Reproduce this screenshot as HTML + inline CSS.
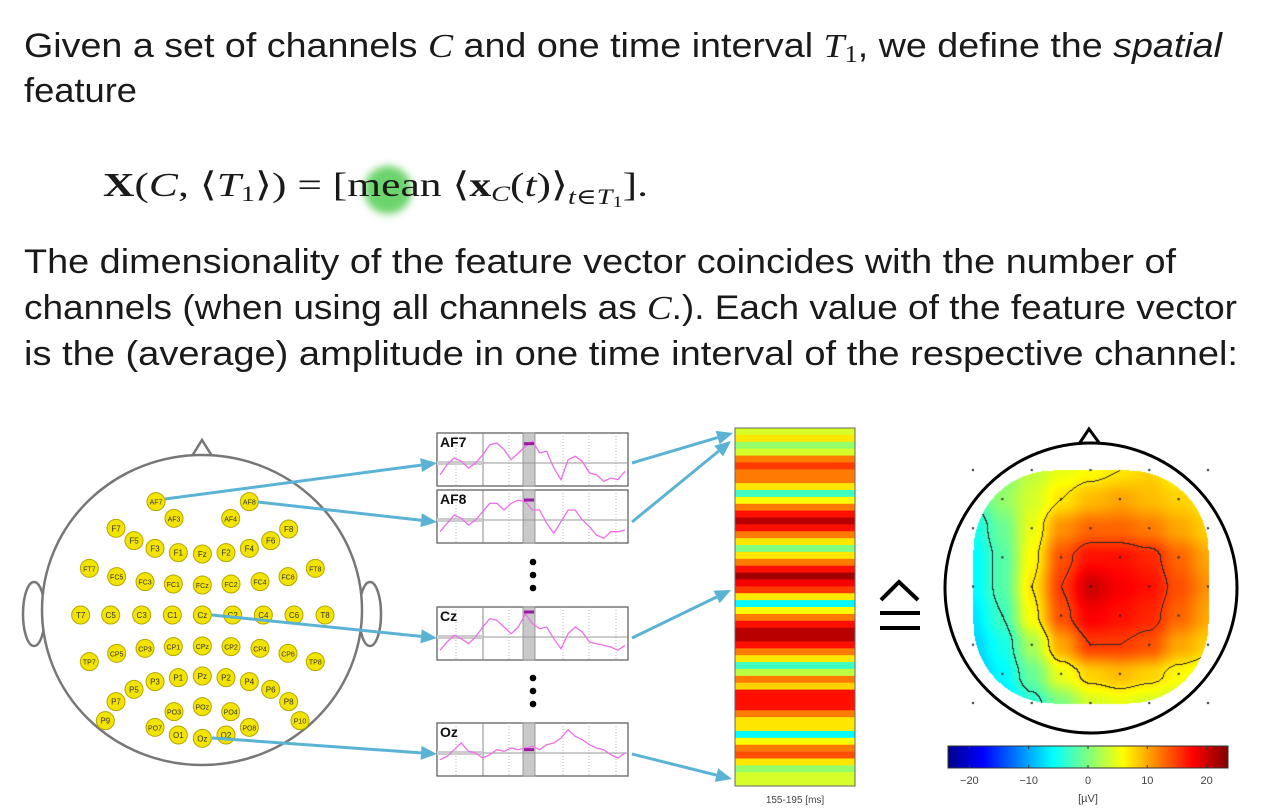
<!DOCTYPE html>
<html><head><meta charset="utf-8"><style>
html,body{margin:0;padding:0;background:#fff;}
#wrap{position:relative;width:1277px;height:812px;overflow:hidden;}
svg{position:absolute;left:0;top:0;}
#topo{position:absolute;left:960px;top:460px;}
</style></head><body>
<div id="wrap">
<svg id="main" width="1277" height="812">
<defs>
<filter id="blur" x="-50%" y="-50%" width="200%" height="200%"><feGaussianBlur stdDeviation="4"/></filter>
<linearGradient id="jet" x1="0" x2="1" y1="0" y2="0">
<stop offset="0" stop-color="#00008f"/><stop offset="0.125" stop-color="#0000ff"/><stop offset="0.375" stop-color="#00ffff"/><stop offset="0.625" stop-color="#ffff00"/><stop offset="0.875" stop-color="#ff0000"/><stop offset="1" stop-color="#800000"/>
</linearGradient>
</defs>
<g font-family="Liberation Sans, sans-serif" font-size="34" fill="#1a1a1a">
<text x="24" y="57" textLength="1198" lengthAdjust="spacingAndGlyphs">Given a set of channels <tspan font-family="Liberation Serif, serif" font-style="italic">C</tspan> and one time interval <tspan font-family="Liberation Serif, serif" font-style="italic">T</tspan><tspan font-family="Liberation Serif, serif" font-size="24" dy="5">1</tspan><tspan dy="-5">, we define the </tspan><tspan font-style="italic">spatial</tspan></text>
<text x="24" y="102" textLength="113" lengthAdjust="spacingAndGlyphs">feature</text>
<circle cx="388" cy="190" r="24" fill="#6cd46c" filter="url(#blur)"/>
<text x="103" y="196" textLength="545" lengthAdjust="spacingAndGlyphs" font-family="Liberation Serif, DejaVu Serif, serif"><tspan font-weight="bold">X</tspan>(<tspan font-style="italic">C</tspan>, ⟨<tspan font-style="italic">T</tspan><tspan font-size="22" dy="5">1</tspan><tspan dy="-5">⟩) = [mean ⟨</tspan><tspan font-weight="bold">x</tspan><tspan font-size="22" dy="5" font-style="italic">C</tspan><tspan dy="-5">(</tspan><tspan font-style="italic">t</tspan>)⟩<tspan font-size="22" dy="8" font-style="italic">t∈T</tspan><tspan font-size="16" dy="3">1</tspan><tspan dy="-11">].</tspan></text>
<text x="24" y="273" textLength="1152" lengthAdjust="spacingAndGlyphs">The dimensionality of the feature vector coincides with the number of</text>
<text x="24" y="319" textLength="1213" lengthAdjust="spacingAndGlyphs">channels (when using all channels as <tspan font-family="Liberation Serif, serif" font-style="italic">C</tspan>.). Each value of the feature vector</text>
<text x="24" y="365" textLength="1214" lengthAdjust="spacingAndGlyphs">is the (average) amplitude in one time interval of the respective channel:</text>
</g>
<g fill="none" stroke="#777" stroke-width="2.5">
<path d="M192,456 L202,440 L212,456"/>
<ellipse cx="34" cy="614" rx="11" ry="32" fill="#fff"/>
<ellipse cx="370" cy="614" rx="11" ry="32" fill="#fff"/>
<ellipse cx="202" cy="610" rx="160" ry="155" fill="#fff"/>
</g>
<g id="electrodes"></g>
<g id="panels"></g>
<g id="strip"></g>
<g id="arrows"></g>
<g stroke="#000" fill="none" stroke-width="4">
<path d="M881,600 L899,582 L918,600"/>
<line x1="880" y1="613" x2="920" y2="613"/>
<line x1="880" y1="628" x2="920" y2="628"/>
</g>
<g fill="none" stroke="#000" stroke-width="3">
<path d="M1079,444 L1089,429 L1100,444"/>
<ellipse cx="1091" cy="588" rx="146" ry="145"/>
</g>
<g id="colorbar"></g>
</svg>
<canvas id="topo" width="260" height="260"></canvas>
</div>
<script>
const stripValues = [4,7,1,4,12,15,12,12,7,-3,6,12,17,21,17,12,7,0,7,12,17,22,18,15,7,-6,6,12,17,21,21,17,12,7,-3,3,12,8,17,17,17,12,7,7,-6,6,12,14,7,1,4,4];
const channelNames = ['AF7','AF8','Cz','Oz'];
const sigAF7 = [-35,-5,15,5,-15,0,25,55,60,40,10,30,50,65,30,35,-15,-50,10,20,5,-30,-35,-55,-45,-50,-25];
const sigAF8 = [-35,-10,15,5,-15,0,25,50,50,30,50,60,55,30,30,-10,-40,-5,30,30,0,-20,-45,-55,-35,-35,-30];
const sigCz  = [-40,-15,5,-5,-20,0,30,55,50,30,10,30,70,40,25,30,-5,-35,10,30,15,-15,-20,-25,-30,-40,-25];
const sigOz  = [-20,-10,10,30,5,0,-15,-5,10,5,15,10,15,20,10,25,30,45,70,50,40,25,15,10,-5,-15,0];
const intervalMeans = [58,60,75,10];
const topoGrid = [
 [-2,0,3,5,6,7,8,6,5],
 [-3,1,4,7,9,10,9,8,7],
 [-5,-1,5,11,13,13,12,10,8],
 [-6,-2,6,14,17,17,16,13,10],
 [-6,-2,7,15,20,18,17,14,11],
 [-7,-3,6,14,18,17,16,13,10],
 [-8,-5,2,10,15,15,14,10,8],
 [-9,-6,-1,5,8,9,8,6,5],
 [-9,-8,-4,0,4,5,4,3,3]];
const contourLevels = [-3,7,15];
const cbTicks = [-20,-10,0,10,20];
const cbMin = -23.6, cbMax = 23.6;

const NS='http://www.w3.org/2000/svg';
function mk(tag, attrs, parent){const e=document.createElementNS(NS,tag);for(const k in attrs)e.setAttribute(k,attrs[k]);parent.appendChild(e);return e;}
function jet(v){let t=(v-cbMin)/(cbMax-cbMin);t=Math.max(0,Math.min(1,t));
 const c=x=>Math.round(255*Math.max(0,Math.min(1,x)));
 return [c(1.5-Math.abs(4*t-3)),c(1.5-Math.abs(4*t-2)),c(1.5-Math.abs(4*t-1))];}
function jetS(v){const c=jet(v);return 'rgb('+c.join(',')+')';}

const elec=[['AF7',408,215],['AF8',688,215],['AF3',462,265],['AF4',632,265],
['F7',288,295],['F5',342,332],['F3',405,355],['F1',475,368],['Fz',547,372],['F2',618,368],['F4',688,355],['F6',752,332],['F8',806,297],
['FT7',208,415],['FC5',290,440],['FC3',375,455],['FC1',460,462],['FCz',547,465],['FC2',633,462],['FC4',720,455],['FC6',804,440],['FT8',886,415],
['T7',182,555],['C5',272,555],['C3',365,555],['C1',457,555],['Cz',547,555],['C2',638,555],['C4',730,555],['C6',822,555],['T8',915,555],
['TP7',208,695],['CP5',290,670],['CP3',375,655],['CP1',460,650],['CPz',547,648],['CP2',633,650],['CP4',720,655],['CP6',804,670],['TP8',886,695],
['P9',256,872],['P7',288,815],['P5',342,778],['P3',405,755],['P1',475,743],['Pz',547,738],['P2',618,743],['P4',688,755],['P6',752,778],['P8',806,815],['P10',840,872],
['PO7',405,892],['PO3',462,845],['POz',547,830],['PO4',632,845],['PO8',688,892],
['O1',475,915],['Oz',547,925],['O2',618,915]];
const eg=document.getElementById('electrodes');
elec.forEach(([n,zx,zy])=>{
 const x=20+zx/3,y=430+zy/3;
 const g=mk('g',{},eg);
 
 
 mk('circle',{cx:x,cy:y,r:9,fill:'#f3e300',stroke:'#b5a600','stroke-width':1},g);
 const t=mk('text',{x:x,y:y+3,'text-anchor':'middle','font-size':n.length>2?7:8,'font-family':'Liberation Sans, sans-serif',fill:'#333'},g);
 t.textContent=n;
});

const pg=document.getElementById('panels');
const panelTops=[433,490,607,723];
const sigs=[sigAF7,sigAF8,sigCz,sigOz];
const px0=437,px1=628,ph=53;
const xOf=i=>px0+3+i*(px1-px0-6)/(sigAF7.length-1);
sigs.forEach((s,k)=>{
 const top=panelTops[k],base=top+30;
 const g=mk('g',{},pg);
 
 
 mk('rect',{x:px0,y:top,width:px1-px0,height:ph,fill:'#fff',stroke:'#555','stroke-width':1.2},g);
 [456,509,563,589,616].forEach(x=>mk('line',{x1:x,x2:x,y1:top,y2:top+ph,stroke:'#aaa','stroke-dasharray':'1,2','stroke-width':0.8},g));
 mk('rect',{x:523,y:top,width:12,height:ph,fill:'#c9c9c9',stroke:'#888','stroke-width':0.8},g);
 mk('line',{x1:483,x2:483,y1:top,y2:top+ph,stroke:'#888','stroke-width':1},g);
 mk('line',{x1:px0,x2:px1,y1:base,y2:base,stroke:'#999','stroke-width':1},g);
 mk('line',{x1:px0,x2:483,y1:base,y2:base,stroke:'#ccc','stroke-width':4},g);
 let d='';s.forEach((v,i)=>{d+=(i?'L':'M')+xOf(i).toFixed(1)+','+(base-v/3).toFixed(1);});
 const p=mk('path',{d:d,fill:'none',stroke:'#ee6ee8','stroke-width':1.3},g);
 
 
 const m=mk('line',{x1:524,x2:534,y1:base-intervalMeans[k]/3,y2:base-intervalMeans[k]/3,stroke:'#9a1aa0','stroke-width':3},g);
 
 
 const t=mk('text',{x:px0+3,y:top+14,'font-size':14,'font-weight':'bold','font-family':'Liberation Sans, sans-serif',fill:'#111'},g);
 t.textContent=channelNames[k];
});
[562,575,588,678,691,704].forEach(y=>{
 const c=mk('circle',{cx:533,cy:y,r:3.3,fill:'#000'},pg);
 
 
});

const sg=document.getElementById('strip');
const sTop=428,sBot=786,sX=735,sW=120;
const sh=(sBot-sTop)/stripValues.length;
stripValues.forEach((v,i)=>{
 const r=mk('rect',{x:sX,y:sTop+i*sh,width:sW,height:sh+0.5,fill:jetS(v)},sg);
 
 
});
mk('rect',{x:sX,y:sTop,width:sW,height:sBot-sTop,fill:'none',stroke:'#666','stroke-width':1},sg);
const sl=mk('text',{x:795,y:803,'text-anchor':'middle','font-size':10,'font-family':'Liberation Sans, sans-serif',fill:'#444'},sg);


sl.textContent='155-195 [ms]';

const ag=document.getElementById('arrows');
const arrowList=[[165,499,437,463],[258,502,437,522],[212,615,437,638],[212,738,437,754],
[632,463,733,433],[632,522,731,441],[632,638,731,590],[632,754,732,779]];
arrowList.forEach(([x1,y1,x2,y2])=>{
 const g=mk('g',{},ag);
 
 
 const a=Math.atan2(y2-y1,x2-x1),L=16,W=7;
 const bx=x2-L*Math.cos(a),by=y2-L*Math.sin(a);
 mk('line',{x1:x1,y1:y1,x2:bx,y2:by,stroke:'#5ab3d5','stroke-width':3},g);
 mk('polygon',{points:`${x2},${y2} ${bx-W*Math.sin(a)},${by+W*Math.cos(a)} ${bx+W*Math.sin(a)},${by-W*Math.cos(a)}`,fill:'#5ab3d5'},g);
});

const cg=document.getElementById('colorbar');
const cbX0=948,cbX1=1228,cbY=746,cbH=22;
const cbx=v=>cbX0+(v-cbMin)/(cbMax-cbMin)*(cbX1-cbX0);
const cbr=mk('rect',{x:cbX0,y:cbY,width:cbX1-cbX0,height:cbH,fill:'url(#jet)',stroke:'#333','stroke-width':1},cg);


cbTicks.forEach(v=>{
 mk('line',{x1:cbx(v),x2:cbx(v),y1:cbY,y2:cbY+3,stroke:'#333'},cg);
 mk('line',{x1:cbx(v),x2:cbx(v),y1:cbY+cbH-3,y2:cbY+cbH,stroke:'#333'},cg);
 const t=mk('text',{x:cbx(v),y:cbY+38,'text-anchor':'middle','font-size':11,'font-family':'Liberation Sans, sans-serif',fill:'#444'},cg);
 
 
 t.textContent=(v<0?'\u2212'+(-v):v);
});
const ul=mk('text',{x:cbx(0),y:cbY+56,'text-anchor':'middle','font-size':11,'font-family':'Liberation Sans, sans-serif',fill:'#444'},cg);


ul.textContent='[µV]';

const cv=document.getElementById('topo'),ctx=cv.getContext('2d');
const ox=960,oy=460;
const gx0=973,gx1=1208,gy0=470,gy1=703;
const nR=topoGrid.length,nC=topoGrid[0].length;
function sm(t){return t*t*(3-2*t);}
function field(x,y){
 let u=(x-gx0)/(gx1-gx0)*(nC-1),w=(y-gy0)/(gy1-gy0)*(nR-1);
 u=Math.max(0,Math.min(nC-1.0001,u));w=Math.max(0,Math.min(nR-1.0001,w));
 const i=Math.floor(w),j=Math.floor(u),fu=sm(u-j),fw=sm(w-i);
 const a=topoGrid[i][j],b=topoGrid[i][j+1],c=topoGrid[i+1][j],d=topoGrid[i+1][j+1];
 return a*(1-fu)*(1-fw)+b*fu*(1-fw)+c*(1-fu)*fw+d*fu*fw;}
function inside(x,y){
 const rr=80;
 if(x<gx0||x>gx1||y<gy0||y>gy1)return false;
 const cx=Math.max(gx0+rr,Math.min(gx1-rr,x)),cy=Math.max(gy0+rr,Math.min(gy1-rr,y));
 return (x-cx)*(x-cx)+(y-cy)*(y-cy)<=rr*rr;}
const img=ctx.createImageData(260,260);
const lev=v=>{let k=0;contourLevels.forEach(l=>{if(v>=l)k++;});return k;};
for(let py=0;py<260;py++)for(let pxi=0;pxi<260;pxi++){
 const x=ox+pxi,y=oy+py;if(!inside(x,y))continue;
 const v=field(x,y);let col=jet(v);
 const k=lev(v);
 if(lev(field(x+1,y))!==k||lev(field(x,y+1))!==k)col=[40,40,40];
 const o=(py*260+pxi)*4;img.data[o]=col[0];img.data[o+1]=col[1];img.data[o+2]=col[2];img.data[o+3]=255;}
ctx.putImageData(img,0,0);
ctx.fillStyle='#222';
for(let i=0;i<nR;i++)for(let j=0;j<nC;j++){
 const x=gx0+j*(gx1-gx0)/(nC-1)-ox,y=gy0+i*(gy1-gy0)/(nR-1)-oy;
 if((i+j)%2===0)ctx.fillRect(x-1,y-1,2,2);}
</script>
</body></html>
